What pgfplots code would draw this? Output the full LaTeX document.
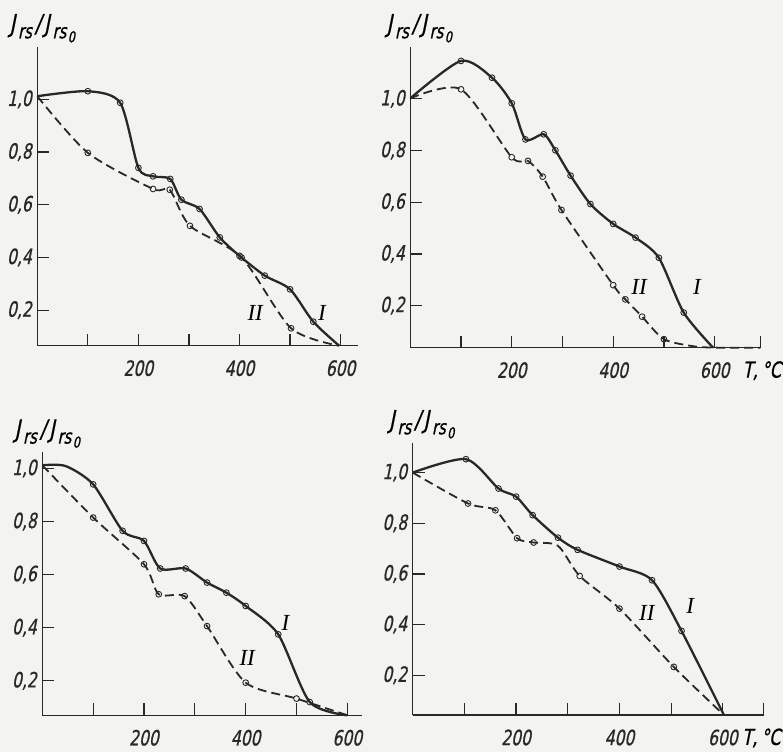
\documentclass[border=0pt]{standalone}
\usepackage{fontspec}
\usepackage{pgfplots}
\pgfplotsset{compat=1.18}

% narrow slanted lettering for numbers and symbols
\newfontfamily\gost{DejaVu Sans}[FakeStretch=0.74,FakeSlant=0.2,FakeBold=0.8]
\newfontfamily\rmnum{Liberation Serif}

\definecolor{ink}{RGB}{40,40,40}
\definecolor{paper}{RGB}{243,243,239}

\newcommand{\sub}[1]{\raisebox{-6pt}{\fontsize{20}{22}\selectfont #1}}
\newcommand{\subsub}[1]{\raisebox{-10pt}{\fontsize{15}{16}\selectfont #1}}
\newcommand{\jlabel}{{\gost\fontsize{25}{27}\selectfont
  J\kern3pt\sub{rs}\kern3pt/\kern3pt J\kern3pt\sub{rs}\kern1.5pt\subsub{0}}}
\newcommand{\numlab}[1]{{\rmnum\itshape\fontsize{23}{25}\selectfont #1}}
\newcommand{\tlab}{{\gost\fontsize{22}{24}\selectfont T,\,°C}}

\pgfplotsset{
  panel/.style={
    scale only axis, anchor=south west, clip=false,
    axis lines=left,
    axis line style={ink, line width=1.4pt, -},
    xmin=0,
    tick style={ink, line width=1.2pt},
    major tick length=12pt,
    tick align=inside,
    xtick={100,200,300,400,500,600},
    xticklabels={,200,,400,,600},
    ytick={0.2,0.4,0.6,0.8,1.0},
    /pgf/number format/fixed,
    /pgf/number format/fixed zerofill,
    /pgf/number format/precision=1,
    /pgf/number format/use comma,
    /pgf/number format/assume math mode=true,
    ticklabel style={font=\gost\fontsize{21}{24}\selectfont, text=ink},
    xticklabel style={yshift=-11pt},
    yticklabel style={xshift=-2pt},
  },
  curveI/.style={ink, line width=2.3pt, smooth, tension=0.45,
    mark=o, mark size=2.9pt, mark options={solid, fill=paper, line width=0.9pt}},
  curveII/.style={ink, line width=1.8pt, dash pattern=on 9pt off 5pt, smooth, tension=0.45,
    mark=o, mark size=2.9pt, mark options={solid, fill=paper, line width=0.9pt}},
}

\begin{document}
\begin{tikzpicture}
\useasboundingbox (0,0) rectangle (783pt,752pt);
\fill[paper] (0,0) rectangle (783pt,752pt);

% ---- upper left ----
\begin{axis}[panel, at={(37.3pt,406.3pt)}, width=321pt, height=299pt,
  xmax=635, ymin=0.065, ymax=1.20]
\addplot[curveI, mark indices={2,3,4,5,6,7,8,9,10,11,12,13}] coordinates {
 (0,1.012) (100,1.031) (164,0.987) (200,0.740) (229,0.708) (263,0.698)
 (285,0.619) (321,0.584) (361,0.476) (400,0.406) (450,0.331) (500,0.279)
 (546,0.156) (597,0.065)};
\addplot[curveII, mark indices={2,3,4,5,6,7}] coordinates {
 (0,1.012) (100,0.797) (229,0.660) (262,0.657) (302,0.520) (404,0.400)
 (502,0.131) (597,0.065)};
\node at (axis cs:431,0.19) {\numlab{II}};
\node at (axis cs:563,0.19) {\numlab{I}};
\node[anchor=south, inner sep=0pt, xshift=5pt, yshift=4pt] at (rel axis cs:0,1) {\jlabel};
\end{axis}

% ---- upper right ----
\begin{axis}[panel, at={(410.3pt,404.3pt)}, width=350pt, height=301pt,
  xmax=690, ymin=0.037, ymax=1.202,
  xtick={100,200,300,400,500,600,690}, xticklabels={,200,,400,,600,}]
\addplot[curveI, mark indices={2,3,4,5,6,7,8,9,10,11,12,13}] coordinates {
 (0,1.002) (100,1.147) (161,1.082) (200,0.983) (227,0.843) (263,0.863)
 (286,0.801) (316,0.703) (355,0.593) (400,0.516) (444,0.463) (490,0.385)
 (539,0.173) (597,0.037)};
\addplot[curveII, mark indices={2,3,4,5,6,7,8,9,10}] coordinates {
 (0,1.002) (100,1.037) (200,0.774) (232,0.760) (261,0.699) (298,0.570)
 (400,0.279) (424,0.224) (457,0.157) (500,0.070) (560,0.042) (610,0.037)
 (690,0.037)};
\node at (axis cs:451,0.271) {\numlab{II}};
\node at (axis cs:565,0.271) {\numlab{I}};
\node[anchor=south, inner sep=0pt, xshift=9pt, yshift=4pt] at (rel axis cs:0,1) {\jlabel};
\node[anchor=west, inner sep=0pt, yshift=-23pt] at (axis cs:655,0.037) {\tlab};
\end{axis}

% ---- lower left ----
\begin{axis}[panel, at={(42.3pt,36.7pt)}, width=319.3pt, height=263.3pt,
  xmax=628, ymin=0.07, ymax=1.062]
\addplot[curveI, mark indices={3,4,5,6,7,8,9,10,11,12}] coordinates {
 (0,1.012) (46,1.009) (100,0.940) (158,0.765) (200,0.727) (232,0.623)
 (282,0.623) (324,0.570) (362,0.532) (400,0.482) (464,0.375) (526,0.120)
 (600,0.070)};
\addplot[curveII, mark indices={2,3,4,5,6,7,8}] coordinates {
 (0,1.012) (100,0.815) (200,0.639) (229,0.526) (280,0.519) (324,0.406)
 (400,0.193) (500,0.133) (600,0.070)};
\node at (axis cs:478,0.418) {\numlab{I}};
\node at (axis cs:403,0.286) {\numlab{II}};
\node[anchor=south, inner sep=0pt, xshift=5pt, yshift=4pt] at (rel axis cs:0,1) {\jlabel};
\end{axis}

% ---- lower right ----
\begin{axis}[panel, at={(412.7pt,37pt)}, width=351pt, height=272.3pt,
  xmax=679, ymin=0.043, ymax=1.118,
  xtick={100,200,300,400,500,600,679}, xticklabels={,200,,400,,600,}]
\addplot[curveI, mark indices={2,3,4,5,6,7,8,9,10}] coordinates {
 (0,1.000) (103,1.053) (166,0.937) (200,0.905) (232,0.832) (281,0.743)
 (319,0.695) (400,0.629) (463,0.575) (520,0.375) (602,0.043)};
\addplot[curveII, mark indices={2,3,4,5,7,8,9}] coordinates {
 (0,1.000) (107,0.878) (160,0.851) (202,0.741) (234,0.724) (281,0.711)
 (323,0.592) (400,0.463) (505,0.233) (602,0.043)};
\node at (axis cs:453,0.446) {\numlab{II}};
\node at (axis cs:537,0.474) {\numlab{I}};
\node[anchor=south, inner sep=0pt, xshift=9pt, yshift=4pt] at (rel axis cs:0,1) {\jlabel};
\node[anchor=west, inner sep=0pt, yshift=-23pt] at (axis cs:637,0.043) {\tlab};
\end{axis}
\end{tikzpicture}
\end{document}
